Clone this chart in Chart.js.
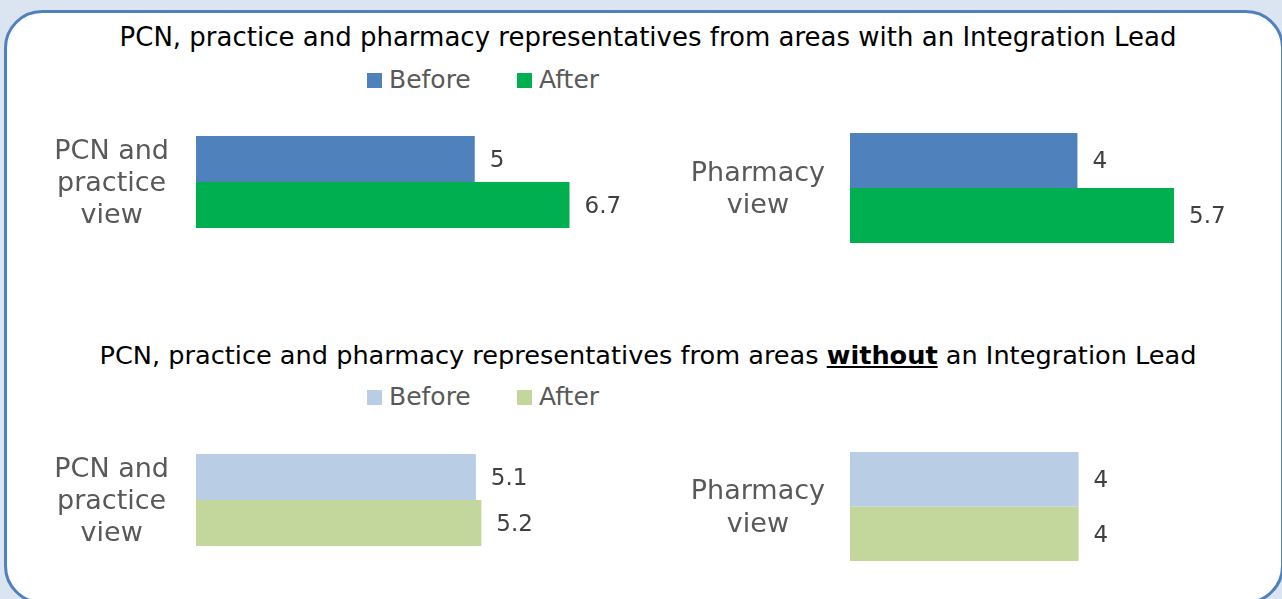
<!DOCTYPE html>
<html>
<head>
<meta charset="utf-8">
<script src="https://cdn.jsdelivr.net/npm/chart.js@4.4.1/dist/chart.umd.min.js"></script>
<style>
	html, body { margin: 0; padding: 0; }
	body {
		width: 1282px;
		height: 599px;
		overflow: hidden;
		position: relative;
		background: #dbe5f1;
		font-family: "DejaVu Sans", sans-serif;
	}
	#frame {
		position: absolute;
		left: 4px;
		top: 10px;
		width: 1280px;
		height: 594px;
		box-sizing: border-box;
		border: 3px solid #4f81bd;
		border-radius: 38px;
		background: #fff;
	}
	.title {
		position: absolute;
		left: 0;
		width: 1296px;
		text-align: center;
		font-size: 26px;
		line-height: 30px;
		color: #000;
		white-space: nowrap;
	}
	.legend-box { position: absolute; width: 15px; height: 15px; }
	.legend-text {
		position: absolute;
		font-size: 25px;
		line-height: 30px;
		color: #595959;
		white-space: nowrap;
	}
	canvas { position: absolute; }
</style>
</head>
<body>
<div id="frame"></div>

<div class="title" style="top:22px">PCN, practice and pharmacy representatives from areas with an Integration Lead</div>
<div id="legend-with"></div>

<div class="title" style="top:340px; font-size:25.6px">PCN, practice and pharmacy representatives from areas <b><u>without</u></b> an Integration Lead</div>
<div id="legend-without"></div>

<canvas id="with-practice" width="612" height="140" style="left:30px; top:112px"></canvas>
<canvas id="with-pharmacy" width="568" height="140" style="left:680px; top:118px"></canvas>
<canvas id="without-practice" width="605" height="140" style="left:30px; top:430px"></canvas>
<canvas id="without-pharmacy" width="570" height="139" style="left:680px; top:437px"></canvas>

<script>
const seriesNames = ["Before", "After"];
const practiceLabel = ["PCN and", "practice", "view"];
const pharmacyLabel = ["Pharmacy", "view"];

const withLeadPractice = [5, 6.7];
const withLeadPharmacy = [4, 5.7];
const withoutLeadPractice = [5.1, 5.2];
const withoutLeadPharmacy = [4, 4];

const withLeadColours = ["#4f81bd", "#00b050"];
const withoutLeadColours = ["#b9cde5", "#c3d69b"];

const labelFont = '"DejaVu Sans", sans-serif';

// writes the value just past the end of each bar
const valueLabels = {
	id: "valueLabels",
	afterDatasetsDraw(chart) {
		const ctx = chart.ctx;
		ctx.save();
		ctx.font = "23px " + labelFont;
		ctx.fillStyle = "#404040";
		ctx.textAlign = "left";
		ctx.textBaseline = "middle";
		chart.data.datasets.forEach((ds, i) => {
			chart.getDatasetMeta(i).data.forEach((bar, j) => {
				ctx.fillText(String(ds.data[j]), bar.x + 15, bar.y + 2);
			});
		});
		ctx.restore();
	}
};

function buildLegend(id, colours, top)
{
	const el = document.getElementById(id);
	const boxX = [367, 517];
	seriesNames.forEach((name, i) => {
		const box = document.createElement("div");
		box.className = "legend-box";
		box.style.left = boxX[i] + "px";
		box.style.top = top + "px";
		box.style.background = colours[i];
		el.appendChild(box);

		const txt = document.createElement("div");
		txt.className = "legend-text";
		txt.style.left = (boxX[i] + 22) + "px";
		txt.style.top = (top - 8) + "px";
		txt.textContent = name;
		el.appendChild(txt);
	});
}

// barsHeight: pixels taken by the two bars together
function plotPanel(id, category, values, colours, xMax, axisWidth, labelPad, barsHeight)
{
	const canvas = document.getElementById(id);

	new Chart(canvas.getContext("2d"), {
		type: "bar",
		data: {
			labels: [category],
			datasets: seriesNames.map((name, i) => ({
				label: name,
				data: [values[i]],
				backgroundColor: colours[i],
				borderWidth: 0,
				barPercentage: 1,
				categoryPercentage: barsHeight / canvas.height
			}))
		},
		options: {
			indexAxis: "y",
			responsive: false,
			animation: false,
			layout: { padding: 0 },
			plugins: {
				legend: { display: false },
				tooltip: { enabled: false }
			},
			scales: {
				x: { display: false, min: 0, max: xMax },
				y: {
					grid: { display: false, drawTicks: false },
					border: { display: false },
					ticks: {
						crossAlign: "center",
						padding: labelPad,
						labelOffset: 2,
						color: "#595959",
						font: { family: labelFont, size: 27, lineHeight: 1.2 }
					},
					afterFit(scale) {
						scale.width = axisWidth;
						// the tall label must not squeeze the plot area
						scale.paddingTop = 0;
						scale.paddingBottom = 0;
					}
				}
			}
		},
		plugins: [valueLabels]
	});
}

buildLegend("legend-with", withLeadColours, 73);
buildLegend("legend-without", withoutLeadColours, 390);

plotPanel("with-practice", practiceLabel, withLeadPractice, withLeadColours, 8, 166, 27, 92);
plotPanel("with-pharmacy", pharmacyLabel, withLeadPharmacy, withLeadColours, 7, 170, 25, 110);
plotPanel("without-practice", practiceLabel, withoutLeadPractice, withoutLeadColours, 8, 166, 27, 92);
plotPanel("without-pharmacy", pharmacyLabel, withoutLeadPharmacy, withoutLeadColours, 7, 170, 25, 109);
</script>
</body>
</html>
